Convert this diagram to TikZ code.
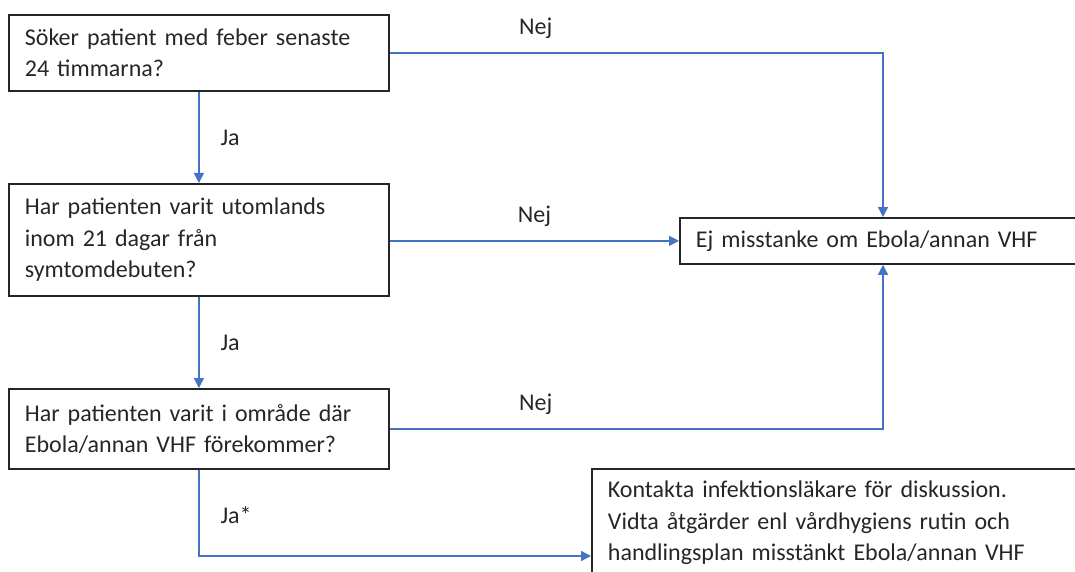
\documentclass[tikz,border=0pt]{standalone}
\usepackage{fontspec}
\setmainfont{Carlito}
\usetikzlibrary{arrows.meta,calc}

\definecolor{lineblue}{HTML}{4472C4}
\definecolor{boxline}{HTML}{262626}

\begin{document}
\begin{tikzpicture}[x=1pt,y=-1pt,
  box/.style={draw=boxline, line width=1.8pt, align=left, inner xsep=16pt, anchor=north west,
    font=\fontsize{24}{31.5}\selectfont, text=boxline},
  flow/.style={lineblue, line width=1.3pt, -{Triangle[length=10pt,width=10pt]}},
  lbl/.style={inner sep=0pt, font=\fontsize{24}{31.5}\selectfont, text=boxline}]
\useasboundingbox (0,0) rectangle (1075,572);
\clip (0,0) rectangle (1075,572);
% question boxes
\node[box, text width=348pt, minimum height=76pt] (q1) at (8,14)
  {Söker patient med feber senaste\\24 timmarna?};
\node[box, text width=348pt, minimum height=112pt] (q2) at (8,183)
  {Har patienten varit utomlands\\inom 21 dagar från\\symtomdebuten?};
\node[box, text width=348pt, minimum height=80pt] (q3) at (8,388)
  {Har patienten varit i område där\\Ebola/annan VHF förekommer?};
% answer boxes
\node[box, text width=400pt, minimum height=46pt] (ej) at (679,217)
  {Ej misstanke om Ebola/annan VHF};
\node[box, text width=480pt, inner ysep=12pt] (act) at (591,468)
  {Kontakta infektionsläkare för diskussion.\\Vidta åtgärder enl vårdhygiens rutin och\\handlingsplan misstänkt Ebola/annan VHF};
% ja
\draw[flow] (q1.south) -- (q2.north) node[lbl, midway, right=21pt] {Ja};
\draw[flow] (q2.south) -- (q3.north) node[lbl, midway, right=21pt] {Ja};
\draw[flow] (q3.south) |- ($(act.north west)+(0,88)$) node[lbl, pos=0.26, right=21pt] {Ja*};
% nej
\draw[flow] (q1.east) -| ($(ej.north west)+(204,0)$) node[lbl, pos=0.148, above=14pt] {Nej};
\draw[flow] (ej.west -| q2.east) -- (ej.west) node[lbl, midway, above=14pt] {Nej};
\draw[flow] (q3.east) -| ($(ej.south west)+(204,0)$) node[lbl, pos=0.148, above=14pt] {Nej};
\end{tikzpicture}
\end{document}
